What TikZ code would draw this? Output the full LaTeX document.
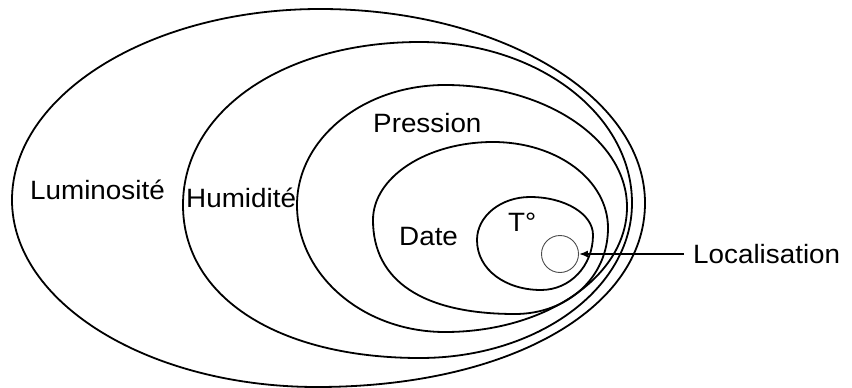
\documentclass[tikz,border=0pt]{standalone}
\usepackage{fontspec}
\setmainfont[FakeStretch=1.05]{Liberation Sans}
\usetikzlibrary{arrows.meta}
\begin{document}
\begin{tikzpicture}[x=1pt,y=-1pt,
  ring/.style={draw=black,line width=1.8pt},
  lbl/.style={anchor=base west,inner sep=0pt,font=\fontsize{26.5}{31}\selectfont},
]
\useasboundingbox (0,0) rectangle (852,388);
% outer (Luminosite)
\draw[ring] (12,200) .. controls (12,95) and (150,9) .. (320,9)
  .. controls (499,9) and (645,96) .. (645,203)
  .. controls (645,310) and (507,387) .. (317,387)
  .. controls (149,387) and (12,303) .. cycle;
% Humidite
\draw[ring] (183,205) .. controls (183,111) and (283,42) .. (420,42)
  .. controls (537,42) and (632,114) .. (632,203)
  .. controls (632,289) and (537,358) .. (420,358)
  .. controls (278,358) and (183,297) .. cycle;
% Pression
\draw[ring] (297,205) .. controls (297,139) and (363,85) .. (445,85)
  .. controls (546,85) and (627,140) .. (627,207)
  .. controls (627,276) and (546,332) .. (445,332)
  .. controls (363,332) and (297,275) .. cycle;
% Date
\draw[ring] (373,220) .. controls (373,177) and (427,142) .. (493,142)
  .. controls (557,142) and (608,180) .. (608,228)
  .. controls (608,278) and (567,314) .. (515,314)
  .. controls (423,314) and (373,281) .. cycle;
% T
\draw[ring] (477,240) .. controls (477,216) and (501,197) .. (530,197)
  .. controls (565,197) and (593,214) .. (593,235)
  .. controls (593,266) and (570,290) .. (541,290)
  .. controls (506,290) and (477,270) .. cycle;
% labels
\node[lbl] (lum) at (30,199) {Luminosité};
\node[lbl] (hum) at (186,207) {Humidité};
\node[lbl] (pres) at (373,132) {Pression};
\node[lbl] (date) at (399,245) {Date};
\node[lbl] (temp) at (508,231) {T°};
\node[circle,draw=black!70,line width=0.9pt,minimum size=37pt,inner sep=0pt] (loc) at (560,254) {};
\node[lbl,inner xsep=9pt] (loclabel) at (684,263) {Localisation};
\draw[line width=1.6pt,-{Latex[length=9pt,width=7pt]}] (loc.east -| loclabel.west) -- (loc.east);
\end{tikzpicture}
\end{document}
